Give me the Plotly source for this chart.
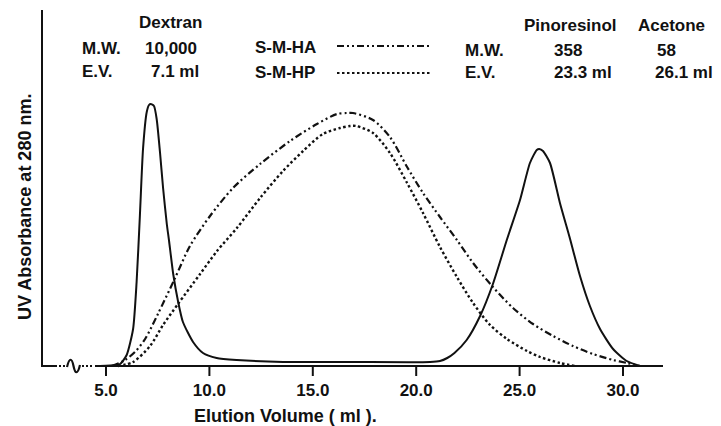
import plotly.graph_objects as go

# ---------------- data ----------------
# Elution volume (ml) and relative UV absorbance (arbitrary units)
standards_ml = [4.71, 5.44, 5.68, 6.00, 6.31, 6.48, 6.64, 6.79, 6.97, 7.08, 7.16, 7.32, 7.45,
                7.61, 7.76, 7.94, 8.05, 8.25, 8.48, 8.72, 9.21, 9.69, 10.35, 11.32, 13.56,
                16.80, 20.67, 21.15, 21.50, 21.85, 22.44, 23.09, 23.71, 24.38, 25.02, 25.50, 25.83,
                25.95, 26.13, 26.47, 26.95, 27.44, 27.92, 28.40, 28.89, 29.52, 30.18, 30.82]
standards_abs = [0, 1, 2, 11, 37, 84, 151, 217, 254, 261, 262, 260, 247,
                 214, 178, 142, 125, 92, 65, 44, 24, 13, 8, 6, 4,
                 4, 4, 5, 8, 13, 26, 50, 82, 126, 166, 203, 216,
                 217, 215, 203, 163, 127, 90, 60, 37, 17, 5, 0]

sm_ha_ml = [5.29, 5.92, 6.40, 6.89, 7.51, 8.34, 9.06, 10.03, 11.14, 12.45, 13.90, 15.20, 16.17,
            16.65, 16.94, 17.91, 18.73, 19.56, 20.33, 21.15, 21.97, 22.75, 23.71, 24.68, 25.65,
            26.62, 27.58, 28.55, 29.52, 30.19, 30.82]
sm_ha_abs = [0, 6, 14, 27, 52, 88, 120, 150, 178, 202, 225, 242, 252,
             253, 253, 246, 229, 199, 173, 149, 126, 103, 79, 58, 42,
             30, 20, 12, 6, 3, 0]

sm_hp_ml = [5.58, 6.31, 7.13, 7.76, 8.48, 9.55, 10.37, 11.33, 12.45, 13.56, 14.53, 15.49, 16.32,
            16.80, 17.09, 17.91, 18.73, 19.56, 20.33, 21.15, 21.97, 22.75, 23.57, 24.39, 25.36,
            25.99, 26.95, 27.68]
sm_hp_abs = [0, 4, 20, 41, 62, 92, 115, 138, 168, 195, 215, 232, 238,
             240, 240, 233, 213, 183, 153, 119, 89, 63, 41, 27, 15,
             9, 3, 0]

x_ticks = [5, 10, 15, 20, 25, 30]
x_tick_labels = ["5.0", "10.0", "15.0", "20.0", "25.0", "30.0"]

# ---------------- styling / layout ----------------
W, H = 721, 426
ML, MR, MT, MB = 38, 54, 6, 48
PX_PER_ML = 20.68
X_RANGE = [5 - (106 - ML) / PX_PER_ML, 30 + (W - MR - 623) / PX_PER_ML]
Y_RANGE = [-12, 360]
INK = "#111111"
FONT = "Liberation Sans, Arial, sans-serif"
DASH_HA = "7px,3px,2px,3px,2px,3px"
DASH_HP = "2.5px,2.5px"
BASE_PY = 366   # pixel row of the baseline (y = 0)
TICK_LEN = 10


def px2paper(px, py):
    return (px - ML) / (W - ML - MR), (H - MB - py) / (H - MT - MB)


def ml_at(px):
    return 5 + (px - 106) / PX_PER_ML


fig = go.Figure()
fig.add_trace(go.Scatter(x=standards_ml, y=standards_abs, mode="lines", name="Standards",
                         line=dict(color=INK, width=2, shape="spline", smoothing=0.6)))
fig.add_trace(go.Scatter(x=sm_ha_ml, y=sm_ha_abs, mode="lines", name="S-M-HA",
                         line=dict(color=INK, width=2.2, dash=DASH_HA, shape="spline", smoothing=0.8)))
fig.add_trace(go.Scatter(x=sm_hp_ml, y=sm_hp_abs, mode="lines", name="S-M-HP",
                         line=dict(color=INK, width=2.4, dash=DASH_HP, shape="spline", smoothing=0.8)))

shapes = []
AX_X = ml_at(42)
TOP_Y = BASE_PY - 10
# y axis line
shapes.append(dict(type="line", xref="x", yref="y", x0=AX_X, x1=AX_X, y0=-1, y1=TOP_Y,
                   line=dict(color=INK, width=2)))
# x-axis baseline with a break mark near the origin
shapes.append(dict(type="line", xref="x", yref="y", x0=AX_X, x1=ml_at(57), y0=0, y1=0,
                   line=dict(color=INK, width=2)))
shapes.append(dict(type="line", xref="x", yref="y", x0=ml_at(59), x1=ml_at(65), y0=0, y1=0,
                   line=dict(color=INK, width=2, dash="2px,2px")))
w0, w1 = ml_at(67), ml_at(80)
wm = (w0 + w1) / 2
shapes.append(dict(type="path", xref="x", yref="y",
                   path=f"M {w0},-1 C {w0 + 0.12},9 {wm - 0.08},8 {wm},0 S {w1 - 0.12},-9 {w1},1",
                   line=dict(color=INK, width=2.2)))
shapes.append(dict(type="line", xref="x", yref="y", x0=ml_at(82), x1=ml_at(93), y0=0, y1=0,
                   line=dict(color=INK, width=2, dash="2px,2px")))
shapes.append(dict(type="line", xref="x", yref="y", x0=ml_at(95), x1=ml_at(663), y0=0, y1=0,
                   line=dict(color=INK, width=2)))
# tick marks hanging below the baseline
for t in x_ticks:
    shapes.append(dict(type="line", xref="x", yref="y", x0=t, x1=t, y0=0, y1=-TICK_LEN,
                       line=dict(color=INK, width=2)))

# legend sample lines
for py, dash in [(46, DASH_HA), (73, DASH_HP)]:
    x0p, y0p = px2paper(337, py)
    x1p, _ = px2paper(432, py)
    shapes.append(dict(type="line", xref="paper", yref="paper", x0=x0p, x1=x1p, y0=y0p, y1=y0p,
                       line=dict(color=INK, width=2.2, dash=dash)))

annotations = []


def txt(s, px, py, size=17, anchor="left"):
    xp, yp = px2paper(px, py)
    annotations.append(dict(text=s, xref="paper", yref="paper", x=xp, y=yp, showarrow=False,
                            xanchor=anchor, yanchor="middle",
                            font=dict(family=FONT, size=size, color=INK, weight="bold")))


txt("Dextran", 137, 23)
txt("M.W.", 80, 48)
txt("10,000", 143, 48)
txt("E.V.", 80, 72)
txt("7.1 ml", 149, 72)
txt("S-M-HA", 253, 47)
txt("S-M-HP", 253, 73)
txt("Pinoresinol", 522, 26)
txt("Acetone", 636, 26)
txt("M.W.", 463, 50)
txt("358", 552, 50)
txt("58", 655, 50)
txt("E.V.", 463, 73)
txt("23.3 ml", 552, 73)
txt("26.1 ml", 653, 73)
txt("Elution Volume ( ml ).", 285, 416, size=18, anchor="center")

yx, yy = px2paper(25, 207)
annotations.append(dict(text="UV Absorbance at 280 nm.", xref="paper", yref="paper", x=yx, y=yy,
                        showarrow=False, textangle=-90, xanchor="center", yanchor="middle",
                        font=dict(family=FONT, size=18, color=INK, weight="bold")))

fig.update_layout(
    width=W, height=H,
    margin=dict(l=ML, r=MR, t=MT, b=MB),
    paper_bgcolor="white", plot_bgcolor="white",
    showlegend=False,
    shapes=shapes, annotations=annotations,
    xaxis=dict(range=X_RANGE, showgrid=False, zeroline=False, showline=False,
               tickmode="array", tickvals=x_ticks, ticktext=x_tick_labels, ticks="",
               tickfont=dict(family=FONT, size=17, color=INK, weight="bold")),
    yaxis=dict(range=Y_RANGE, showgrid=False, zeroline=False, showline=False,
               showticklabels=False, ticks=""),
)

fig.write_html("out.html")
